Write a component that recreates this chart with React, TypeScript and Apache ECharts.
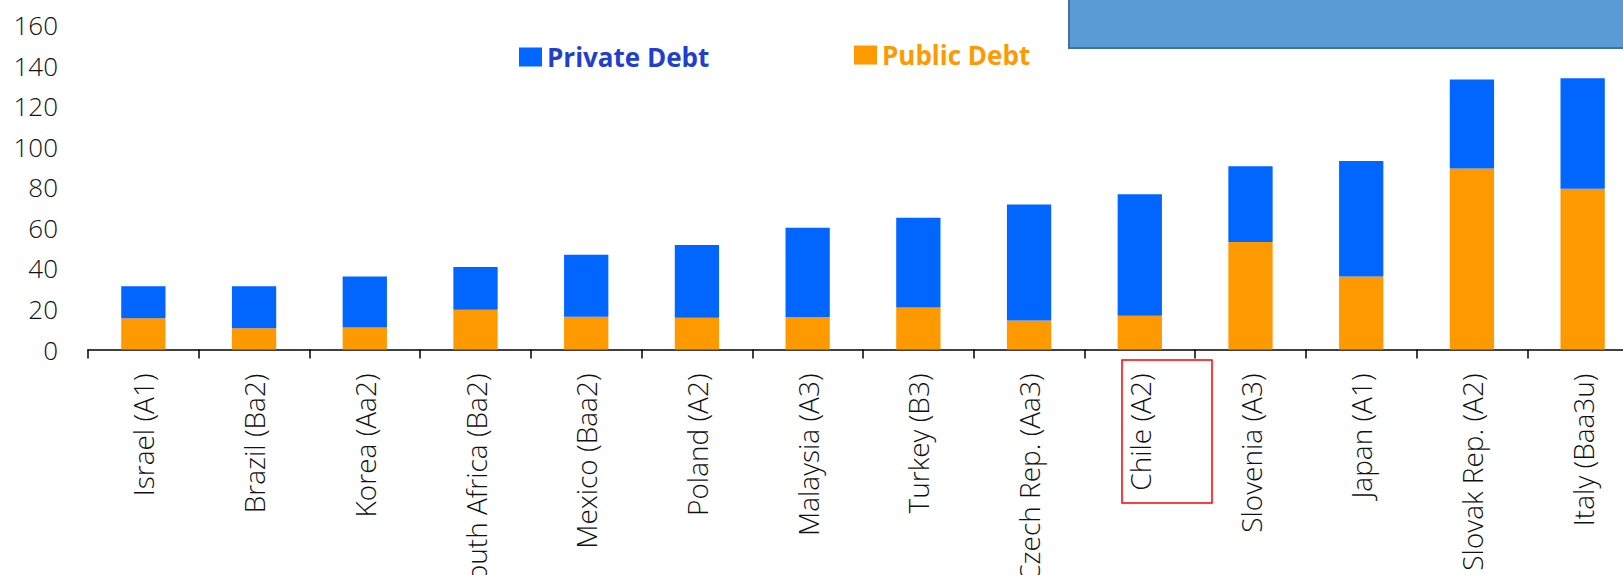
import React, { useEffect, useRef } from "react";
import * as echarts from "echarts";

const categories = [
  "Israel (A1)",
  "Brazil (Ba2)",
  "Korea (Aa2)",
  "South Africa (Ba2)",
  "Mexico (Baa2)",
  "Poland (A2)",
  "Malaysia (A3)",
  "Turkey (B3)",
  "Czech Rep. (Aa3)",
  "Chile (A2)",
  "Slovenia (A3)",
  "Japan (A1)",
  "Slovak Rep. (A2)",
  "Italy (Baa3u)",
];

const publicDebt = [15.4, 10.5, 10.8, 19.6, 16.2, 15.6, 15.9, 20.7, 14.3, 16.6, 53.0, 36.0, 89.3, 79.2];
const privateDebt = [15.8, 20.7, 25.2, 21.1, 30.5, 35.9, 44.1, 44.3, 57.2, 59.9, 37.4, 57.0, 43.8, 54.6];

const yTicks = { min: 0, max: 160, interval: 20 };

const FONT = "'Open Sans', 'Liberation Sans', sans-serif";
const BLUE = "#0066FF";
const ORANGE = "#FF9900";

export default function App() {
  const ref = useRef<HTMLDivElement>(null);

  useEffect(() => {
    document.body.style.margin = "0";
    document.body.style.overflow = "hidden";
    const chart = echarts.init(ref.current!, undefined, { renderer: "svg" });
    chart.setOption({
      animation: false,
      backgroundColor: "#ffffff",
      grid: {
        left: 88,
        right: -15,
        top: 25,
        bottom: 225.5,
        containLabel: false,
        outerBoundsMode: "none",
      },
      legend: [
        {
          left: 514,
          top: 39,
          icon: "rect",
          itemWidth: 23,
          itemHeight: 19,
          data: [{ name: "Private Debt", textStyle: { color: "#1F3FD0" } }],
          textStyle: { fontFamily: FONT, fontSize: 26, fontWeight: "bold" },
          selectedMode: false,
        },
        {
          left: 849,
          top: 37,
          icon: "rect",
          itemWidth: 23,
          itemHeight: 19,
          data: [{ name: "Public Debt", textStyle: { color: ORANGE } }],
          textStyle: { fontFamily: FONT, fontSize: 26, fontWeight: "bold" },
          selectedMode: false,
        },
      ],
      xAxis: {
        type: "category",
        data: categories,
        boundaryGap: true,
        axisLine: { show: true, lineStyle: { color: "#000", width: 1.5 } },
        axisTick: { show: true, length: 9, lineStyle: { color: "#000", width: 1.5 } },
        axisLabel: {
          interval: 0,
          rotate: 90,
          margin: 24,
          fontFamily: FONT,
          fontWeight: 300,
          fontSize: 28,
          color: "#111",
          hideOverlap: false,
        },
        splitLine: { show: false },
      },
      yAxis: {
        type: "value",
        min: yTicks.min,
        max: yTicks.max,
        interval: yTicks.interval,
        axisLine: { show: false },
        axisTick: { show: false },
        splitLine: { show: false },
        axisLabel: {
          margin: 30,
          fontFamily: FONT,
          fontWeight: 300,
          fontSize: 26,
          color: "#111",
        },
      },
      series: [
        {
          name: "Public Debt",
          type: "bar",
          stack: "debt",
          data: publicDebt,
          barCategoryGap: "60%",
          itemStyle: { color: ORANGE },
        },
        {
          name: "Private Debt",
          type: "bar",
          stack: "debt",
          data: privateDebt,
          barCategoryGap: "60%",
          itemStyle: { color: BLUE },
        },
      ],
      graphic: [
        {
          type: "rect",
          shape: { x: 1069, y: -4, width: 600, height: 52 },
          style: { fill: "#5B9BD5", stroke: "#41719C", lineWidth: 2 },
          z: 10,
        },
        {
          type: "rect",
          shape: { x: 1122, y: 360, width: 90, height: 143 },
          style: { fill: "none", stroke: "#FF0000", lineWidth: 1.5 },
          z: 10,
        },
      ],
    });
    return () => chart.dispose();
  }, []);

  return (
    <div
      ref={ref}
      style={{ position: "absolute", left: 0, top: 0, width: 1623, height: 575 }}
    />
  );
}
